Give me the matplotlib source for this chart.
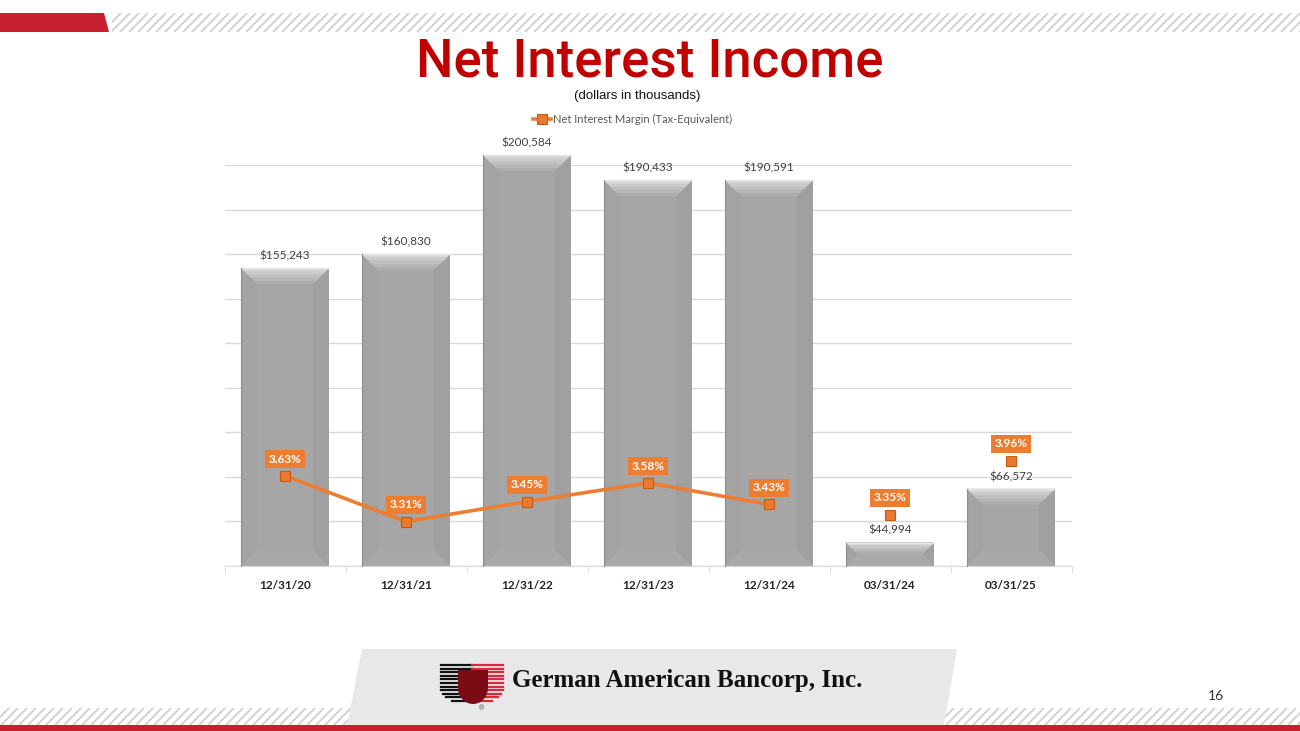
import numpy as np
import matplotlib.pyplot as plt
from matplotlib.patches import Polygon, Rectangle
from matplotlib.collections import LineCollection

# --- Data ---
periods = ['12/31/20', '12/31/21', '12/31/22', '12/31/23', '12/31/24', '03/31/24', '03/31/25']
nii = [155243, 160830, 200584, 190433, 190591, 44994, 66572]
nim_annual = [3.63, 3.31, 3.45, 3.58, 3.43]
nim_quarter = [3.35, 3.96]
legend_label = 'Net Interest Margin (Tax-Equivalent)'

W, H = 1300, 731
RED = '#C8202F'
ORANGE = '#ED7D31'

fig = plt.figure(figsize=(13, 7.31), dpi=100)


def fxy(x, y):
    # page pixel (top-left origin) -> figure fraction
    return (x / W, 1 - y / H)


def poly(pts, **kw):
    p = Polygon([fxy(*q) for q in pts], closed=True, transform=fig.transFigure, **kw)
    fig.add_artist(p)
    return p


def hatch_band(x0, x1, y0, y1, step=9, zorder=1):
    h = y1 - y0
    segs = []
    x = x0 - h
    while x < x1:
        segs.append([fxy(x, y1), fxy(x + h, y0)])
        x += step
    lc = LineCollection(segs, colors='#CFCFCF', linewidths=1.3, transform=fig.transFigure, zorder=zorder)
    clip = Rectangle(fxy(x0, y1), (x1 - x0) / W, h / H, transform=fig.transFigure)
    fig.add_artist(lc)
    lc.set_clip_path(clip)


# --- page decorations ---
poly([(0, 13), (104, 13), (109, 32), (0, 32)], facecolor=RED, edgecolor='none')
hatch_band(112, W, 13, 32)
hatch_band(0, W, 708, 725)
poly([(0, 725), (W, 725), (W, H), (0, H)], facecolor=RED, edgecolor='none', zorder=3)
poly([(362, 649), (957, 649), (944, 725), (347, 725)], facecolor='#E8E8E8', edgecolor='none', zorder=2)

# shield logo
cx = 472
for i in range(11):
    y = 665 + i * 3.6
    w = 31 if y < 688 else 31 * np.sqrt(max(0.0, 1 - ((y - 688) / 17.0) ** 2))
    fig.add_artist(plt.Line2D([fxy(cx - w, y)[0], fxy(cx, y)[0]], [fxy(0, y)[1]] * 2,
                              color='#111111', lw=1.6, transform=fig.transFigure, zorder=4))
    fig.add_artist(plt.Line2D([fxy(cx, y)[0], fxy(cx + w, y)[0]], [fxy(0, y)[1]] * 2,
                              color='#D42A3A', lw=1.6, transform=fig.transFigure, zorder=4))
ang = np.linspace(0, np.pi, 20)
shield = [(458, 670), (488, 670)] + [(473 + 15 * np.cos(a), 688 + 16 * np.sin(a)) for a in ang]
poly(shield, facecolor='#7A0C16', edgecolor='none', zorder=5)
fig.text(*fxy(482, 708), '®', fontsize=5, color='#555555', ha='center', va='center', zorder=6)
fig.text(*fxy(512, 680), 'German American Bancorp, Inc.', family='Liberation Serif', weight='bold',
         fontsize=18, color='#111111', ha='left', va='center', zorder=6)
fig.text(*fxy(1216, 696), '16', family='Lato', fontsize=10, color='#333333', ha='center', va='center')

# titles
fig.text(*fxy(650, 62), 'Net Interest Income', family='Roboto', weight='medium', fontsize=38,
         color='#C00000', ha='center', va='center')
fig.text(*fxy(637, 96), '(dollars in thousands)', family='Liberation Sans', fontsize=9.5,
         color='#111111', ha='center', va='center')

# --- chart ---
ax = fig.add_axes([224.5 / W, 165 / H, 847 / W, 401 / H])
v0, step = 35620, 17892
ax.set_xlim(-0.5, 6.5)
ax.set_ylim(v0, v0 + 9 * step)
ax.set_yticks([v0 + k * step for k in range(10)])
ax.yaxis.grid(True, color='#D9D9D9', lw=1)
ax.set_axisbelow(True)
for s in ['top', 'right', 'left']:
    ax.spines[s].set_visible(False)
ax.spines['bottom'].set_color('#D9D9D9')
x = np.arange(len(periods))
ax.set_xticks(x)
ax.set_xticklabels(periods, fontsize=8.5, weight='bold', color='#262626', family='Lato')
ax.tick_params(axis='x', length=0, pad=10)
ax.set_xticks(np.arange(-0.5, 7, 1), minor=True)
ax.tick_params(axis='x', which='minor', length=5, color='#D9D9D9')

bars = ax.bar(x, np.array(nii) - v0, bottom=v0, width=0.725, color='#A6A6A6',
              edgecolor='none', zorder=2, clip_on=False)

# bevel overlays, computed from each bar's own extent
inv = ax.transData.inverted()
for b in bars:
    bb = b.get_window_extent()
    x0p, x1p, y0p, y1p = bb.x0, bb.x1, bb.y0, bb.y1
    bev = min(16, (y1p - y0p) / 2)

    def d(px, py):
        return inv.transform((px, py))

    def face(pts, c):
        ax.add_patch(Polygon([d(*q) for q in pts], closed=True, facecolor=c, edgecolor='none',
                             zorder=3, clip_on=False))

    face([(x0p, y0p), (x0p + bev, y0p + bev), (x0p + bev, y1p - bev), (x0p, y1p)], '#A3A3A3')
    face([(x1p, y0p), (x1p - bev, y0p + bev), (x1p - bev, y1p - bev), (x1p, y1p)], '#A0A0A0')
    face([(x0p, y0p), (x1p, y0p), (x1p - bev, y0p + bev), (x0p + bev, y0p + bev)], '#A9A9A9')
    shades = ['#ADADAD', '#B6B6B6', '#C0C0C0', '#CBCBCB', '#D6D6D6']
    for k, c in enumerate(shades):
        f = 1 - k / len(shades)
        face([(x0p, y1p), (x1p, y1p), (x1p - bev * f, y1p - bev * f), (x0p + bev * f, y1p - bev * f)], c)
    ax.plot([d(x0p, y1p)[0], d(x1p, y1p)[0]], [d(x0p, y1p)[1]] * 2, color='#E6E6E6', lw=1,
            zorder=4, clip_on=False)
    ax.plot([d(x0p, y0p)[0], d(x0p, y1p)[0]], [d(x0p, y0p)[1], d(x0p, y1p)[1]], color='#8E8E8E',
            lw=0.8, zorder=4, clip_on=False)

for xi, v in zip(x, nii):
    ax.annotate(f'${v:,}', (xi, v), xytext=(0, 5), textcoords='offset points', ha='center',
                va='bottom', fontsize=8.5, color='#404040', family='Lato', annotation_clip=False)

# NIM lines on their own hidden axes
ax2 = ax.twinx()
ax2.set_ylim(3.0, 5.8)
ax2.axis('off')
ln, = ax2.plot(x[:5], nim_annual, color=ORANGE, lw=2.6, marker='s', ms=7,
               mfc='#E8792F', mec='#C55A11', mew=0.8, zorder=5, label=legend_label)

ax3 = ax.twinx()
ax3.set_ylim(2.77, 7.3)
ax3.axis('off')
ax3.plot(x[5:], nim_quarter, ls='none', marker='s', ms=7, mfc='#E8792F', mec='#C55A11', mew=0.8, zorder=5)

ax.tick_params(axis='y', which='both', left=False, right=False, labelleft=False, labelright=False)

box = dict(boxstyle='square,pad=0.3', fc=ORANGE, ec='none')
for axx, xs, vals in [(ax2, x[:5], nim_annual), (ax3, x[5:], nim_quarter)]:
    for xi, v in zip(xs, vals):
        axx.annotate(f'{v:.2f}%', (xi, v), xytext=(0, 12), textcoords='offset points',
                     ha='center', va='center', fontsize=8.5, weight='bold', color='white',
                     family='Lato', bbox=box, zorder=6)

fig.legend(handles=[ln], loc='center', bbox_to_anchor=fxy(633, 119), frameon=False,
           prop={'family': 'Lato', 'size': 8}, labelcolor='#595959', handlelength=1.6,
           handletextpad=0.2)

fig.savefig('out.png', dpi=100)
